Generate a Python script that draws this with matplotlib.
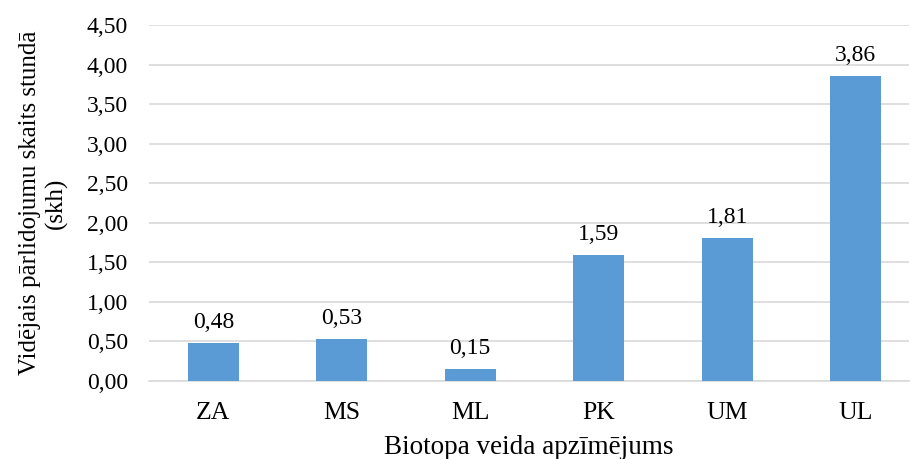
import numpy as np
import matplotlib.pyplot as plt

# vidējais pārlidojumu skaits stundā pa biotopu veidiem
biotopi = ['ZA', 'MS', 'ML', 'PK', 'UM', 'UL']
skh = [0.48, 0.53, 0.15, 1.59, 1.81, 3.86]
y_ticks = [0.0, 0.5, 1.0, 1.5, 2.0, 2.5, 3.0, 3.5, 4.0, 4.5]

plt.rcParams['font.family'] = ['Liberation Serif', 'DejaVu Serif']
plt.rcParams['font.size'] = 17

fig = plt.figure(figsize=(9.11, 4.59), dpi=100)
ax = fig.add_axes([149 / 911, 1 - 381 / 459, 760 / 911, 356 / 459])

x = np.arange(len(biotopi))
bars = ax.bar(x, skh, width=0.4, color='#5B9BD5', zorder=3)

for xi, v in zip(x, skh):
    ax.annotate(f'{v:.2f}'.replace('.', ','), (xi, v), xytext=(0, 7),
                textcoords='offset points', ha='center', va='bottom', fontsize=17)

ax.set_xlim(-0.5, -0.5 + 760 / 128.5)
ax.set_ylim(0, 4.5)
ax.set_xticks(x)
ax.set_xticklabels(biotopi, fontsize=18.5)
ax.set_yticks(y_ticks)
ax.set_yticklabels([f'{t:.2f}'.replace('.', ',') for t in y_ticks], fontsize=17)
ax.tick_params(axis='both', length=0)
ax.tick_params(axis='y', pad=15)
ax.tick_params(axis='x', pad=15)

ax.grid(axis='y', color='#d9d9d9', linewidth=1.2, zorder=0)
for s in ['top', 'right', 'left']:
    ax.spines[s].set_visible(False)
ax.spines['bottom'].set_color('#d9d9d9')
ax.spines['bottom'].set_linewidth(1.2)

ax.set_xlabel('Biotopa veida apzīmējums', fontsize=19.5, labelpad=8)
ax.set_ylabel('Vidējais pārlidojumu skaits stundā\n(skh)', fontsize=18, labelpad=14,
              linespacing=1.2)

fig.savefig('out.png', dpi=100)
